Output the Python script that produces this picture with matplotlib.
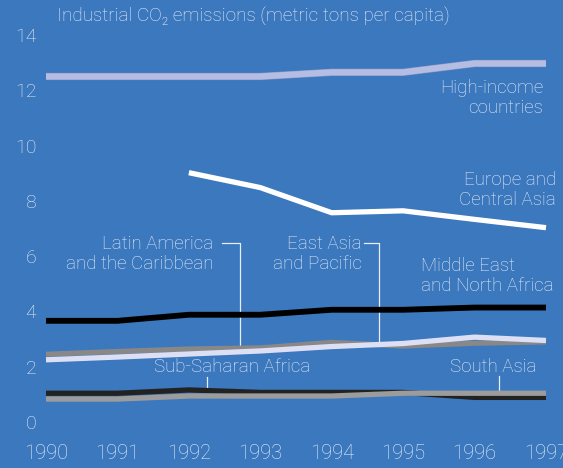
import matplotlib
matplotlib.use("Agg")
import matplotlib.pyplot as plt
import matplotlib.patheffects as pe

years = [1990, 1991, 1992, 1993, 1994, 1995, 1996, 1997]
high_income = [12.5, 12.5, 12.5, 12.5, 12.65, 12.65, 12.97, 12.97]
europe_years = [1992, 1993, 1994, 1995, 1996, 1997]
europe_central_asia = [9.02, 8.48, 7.57, 7.64, 7.33, 7.03]
middle_east = [3.66, 3.66, 3.88, 3.88, 4.06, 4.06, 4.14, 4.14]
latin_america = [2.45, 2.55, 2.64, 2.68, 2.88, 2.75, 2.85, 2.90]
east_asia = [2.25, 2.35, 2.46, 2.57, 2.73, 2.84, 3.07, 2.95]
sub_saharan = [1.04, 1.04, 1.16, 1.07, 1.07, 1.07, 0.89, 0.89]
south_asia = [0.83, 0.83, 0.94, 0.94, 0.94, 1.04, 1.04, 1.04]

y_ticks = [0, 2, 4, 6, 8, 10, 12, 14]

BG = "#3b78bd"
TXT = "#e8edf8"
FONT = ["Roboto", "DejaVu Sans"]

plt.rcParams["font.family"] = FONT
plt.rcParams["font.weight"] = "light"

fig = plt.figure(figsize=(5.63, 4.68), dpi=100, facecolor=BG)
W, H = 563, 468
ax = fig.add_axes([46 / W, 1 - 422 / H, 500 / W, 387 / H])
ax.set_facecolor(BG)
ax.set_xlim(1990, 1997)
ax.set_ylim(0, 14)
for s in ax.spines.values():
    s.set_visible(False)

ax.set_yticks(y_ticks)
ax.set_yticklabels([str(v) for v in y_ticks])
ax.set_xticks(years)
ax.set_xticklabels([str(y) for y in years])
ax.tick_params(axis="y", length=0, pad=7.0, labelsize=14, labelcolor=TXT)
ax.tick_params(axis="x", length=0, pad=15.5, labelsize=14.5, labelcolor=TXT)
for lab in ax.get_xticklabels() + ax.get_yticklabels():
    lab.set_fontweight("light")

kw = dict(solid_capstyle="butt", solid_joinstyle="miter", clip_on=False)
ax.plot(years, high_income, color="#b5bde2", lw=4.4, zorder=3,
        path_effects=[pe.Stroke(linewidth=5.2, foreground="#8f9acb"), pe.Normal()], **kw)
ax.plot(europe_years, europe_central_asia, color="#ffffff", lw=3.8, zorder=3, **kw)
ax.plot(years, middle_east, color="#000000", lw=4.2, zorder=3, **kw)
ax.plot(years, latin_america, color="#888888", lw=3.8, zorder=3, **kw)
ax.plot(years, east_asia, color="#dde0f4", lw=3.8, zorder=4, **kw)
ax.plot(years, sub_saharan, color="#222222", lw=3.8, zorder=3, **kw)
ax.plot(years, south_asia, color="#9c9c9c", lw=3.8, zorder=4, **kw)


def px(x, y):
    """Pixel position on the canvas to data coordinates."""
    return 1990 + (x - 46) / (500 / 7), (422 - y) / (387 / 14)


def label(x, y, s, ha="left", size=13.5):
    dx, dy = px(x, y)
    ax.text(dx, dy, s, ha=ha, va="center", color=TXT, fontsize=size,
            fontweight="light", linespacing=1.15, clip_on=False)


def connector(points):
    xs, ys = zip(*[px(x, y) for x, y in points])
    ax.plot(xs, ys, color=TXT, lw=0.9, clip_on=False, zorder=2)


label(57, 17, "Industrial CO\u2082 emissions (metric tons per capita)", size=13.6)
label(543, 98, "High-income\ncountries", ha="right")
label(556, 190, "Europe and\nCentral Asia", ha="right")
label(213, 254, "Latin America\nand the Caribbean", ha="right")
label(362, 254, "East Asia\nand Pacific", ha="right")
label(421, 276, "Middle East\nand North Africa")
label(232, 367, "Sub-Saharan Africa", ha="center")
label(493, 367, "South Asia", ha="center")

connector([(222, 243), (240, 243), (240, 350)])
connector([(364, 243), (379, 243), (379, 343)])
connector([(207, 377), (207, 389)])
connector([(499, 376), (499, 391)])

fig.savefig("out.png", dpi=100, facecolor=BG)
